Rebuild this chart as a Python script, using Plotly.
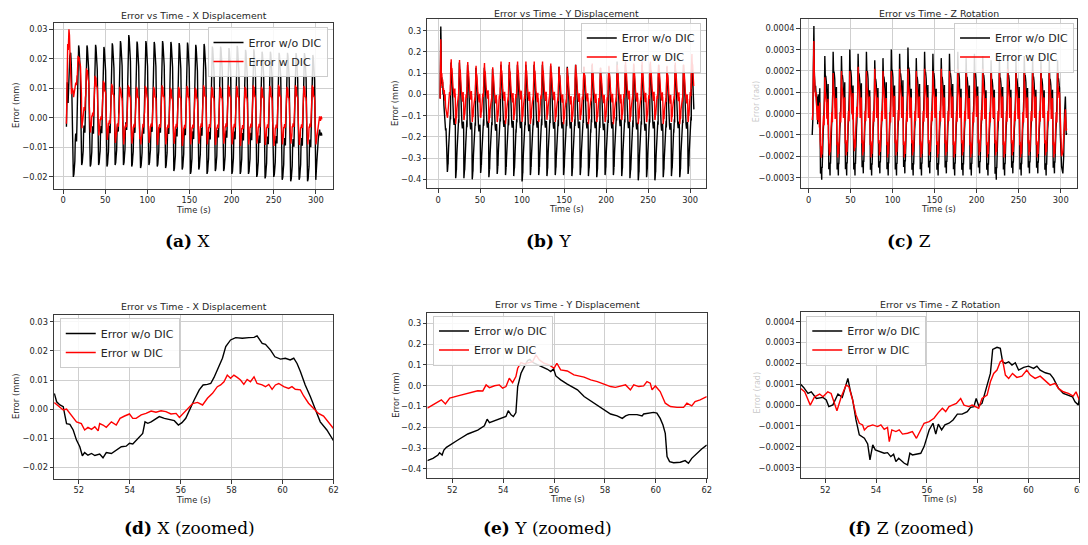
import plotly.graph_objects as go

# ======================= DATA =======================
# ---- (a) X displacement, full run (mm) ----
XA_black_start_t = [4.0, 5.0, 6.0, 7.0, 8.0, 9.1, 9.8, 10.5, 11.2]
XA_black_start_v = [-0.003, 0.012, 0.005, 0.015, 0.021, 0.022, 0.018, 0.008, -0.008]
XA_red_start_t = [4.0, 4.8, 5.5, 6.2, 7.0, 7.6, 8.2, 9.0, 10.0, 11.0]
XA_red_start_v = [-0.002, 0.015, 0.025, 0.023, 0.030, 0.028, 0.022, 0.012, 0.008, 0.010]
XA_peak_t = [18.5, 28.4, 38.6, 48.5, 58.4, 68.1, 78.0, 87.8, 98.3, 108.2, 118.1, 128.0, 137.8, 147.7,
             157.5, 167.4, 177.2, 187.0, 196.9, 206.7, 216.6, 226.4, 236.2, 246.1, 256.4, 266.4, 276.5,
             286.5, 296.5]
XA_black_lo = [-0.020, -0.016, -0.0165, -0.016, -0.0165, -0.016, -0.016, -0.0165, -0.017, -0.016, -0.0165,
               -0.017, -0.018, -0.0175, -0.019, -0.0175, -0.019, -0.018, -0.018, -0.019, -0.019, -0.019,
               -0.020, -0.0205, -0.020, -0.021, -0.0215, -0.021, -0.0215]
XA_black_hi = [0.0245, 0.0245, 0.0247, 0.024, 0.0252, 0.026, 0.028, 0.0258, 0.026, 0.0257, 0.026, 0.0257,
               0.0253, 0.0255, 0.0247, 0.025, 0.0241, 0.0241, 0.0236, 0.0244, 0.023, 0.0232, 0.0224,
               0.0224, 0.022, 0.022, 0.0219, 0.0219, 0.0213]
XA_red_lo = [0.007, -0.0035, -0.005, -0.006, -0.0075, -0.0085, -0.009, -0.0088, -0.009, -0.0085, -0.0092,
             -0.009, -0.0088, -0.0095, -0.009, -0.0088, -0.009, -0.0092, -0.0088, -0.009, -0.0095, -0.009,
             -0.0088, -0.0092, -0.0095, -0.009, -0.0088, -0.0092, -0.009]
XA_red_hi = [0.021, 0.0168, 0.0142, 0.0125, 0.0115, 0.0105, 0.011, 0.0105, 0.0108, 0.0105, 0.011, 0.0102,
             0.0105, 0.0108, 0.0102, 0.011, 0.0105, 0.0105, 0.011, 0.0108, 0.0105, 0.011, 0.0105, 0.0108,
             0.0112, 0.0105, 0.011, 0.0108, 0.011]
# cycle shape: offset from peak (s), level within the cycle (0=low, 1=high)
XA_black_shape_off = [-6.3, -5.6, -5.0, -4.5, -4.0, -3.5, -2.9, -2.5, -2.0, -1.5, -1.0, -0.5, 0.0, 0.5, 1.3, 2.0, 2.8, 3.3]
XA_black_shape_lvl = [0.0, 0.02, 0.08, 0.12, 0.28, 0.33, 0.30, 0.27, 0.40, 0.60, 0.78, 0.98, 1.0, 0.98, 0.80, 0.80, 0.40, 0.15]
XA_red_shape_off = [-6.3, -6.0, -5.5, -5.0, -4.5, -4.0, -3.5, -3.0, -2.5, -2.0, -1.5, -1.0, -0.6, -0.3, 0.0, 0.4, 0.8, 1.3, 1.9, 2.2, 2.7, 3.0, 3.3]
XA_red_shape_lvl = [0.13, 0.0, 0.08, 0.13, 0.29, 0.29, 0.34, 0.34, 0.29, 0.5, 0.55, 0.82, 1.0, 0.97, 0.89, 0.97, 0.82, 0.82, 0.79, 0.74, 0.39, 0.26, 0.08]
XA_black_end_t = [300.0, 301.2, 302.0, 303.0, 304.5, 305.5, 306.5, 307.2]
XA_black_end_v = [-0.021, -0.015, -0.010, -0.007, -0.004, -0.006, -0.005, -0.006]
XA_red_end_t = [300.2, 301.5, 302.5, 303.5, 304.5, 305.5, 306.5, 307.2]
XA_red_end_v = [-0.009, -0.006, -0.004, -0.001, 0.0005, -0.001, 0.0005, -0.0005]

# ---- (b) Y displacement, full run (mm) ----
YB_black_start_t = [2.5, 3.0, 3.3, 3.6, 4.0, 4.5, 5.0, 5.5, 6.0, 6.5, 7.0, 8.0, 9.0, 9.5, 10.3]
YB_black_start_v = [-0.02, 0.20, 0.32, 0.25, 0.05, 0.08, 0.03, 0.06, 0.0, 0.02, -0.05, -0.10, -0.17, -0.16, -0.25]
YB_red_start_t = [2.5, 3.0, 3.3, 3.6, 4.0, 4.5, 5.0, 5.5, 6.0, 6.5, 7.0, 7.5, 8.0, 8.5, 9.0, 9.5, 10.3]
YB_red_start_v = [-0.02, 0.15, 0.26, 0.18, 0.08, 0.10, 0.04, 0.07, 0.02, 0.03, 0.0, 0.02, -0.03, 0.0, -0.06, -0.08, -0.10]
YB_peak_t = [15.5, 25.4, 35.2, 45.1, 55.1, 64.9, 74.8, 84.7, 94.5, 104.4, 114.3, 124.2, 134.0, 143.9, 153.8,
             163.7, 173.6, 183.4, 193.3, 203.2, 213.1, 223.0, 232.8, 242.7, 252.6, 262.5, 272.4, 282.2,
             292.1, 302.0]
YB_black_lo = [-0.365, -0.395, -0.395, -0.40, -0.37, -0.39, -0.375, -0.38, -0.385, -0.41, -0.38, -0.38,
               -0.385, -0.38, -0.38, -0.385, -0.38, -0.385, -0.39, -0.38, -0.38, -0.385, -0.395, -0.405,
               -0.39, -0.405, -0.39, -0.385, -0.39, -0.375]
YB_black_hi = [0.15, 0.15, 0.14, 0.125, 0.125, 0.12, 0.14, 0.14, 0.14, 0.14, 0.14, 0.14, 0.135, 0.13, 0.13,
               0.14, 0.13, 0.14, 0.125, 0.13, 0.155, 0.14, 0.14, 0.14, 0.145, 0.14, 0.13, 0.14, 0.14, 0.15]
YB_red_lo = [-0.11, -0.14, -0.12, -0.13, -0.11, -0.135, -0.13, -0.14, -0.12, -0.13, -0.14, -0.13, -0.12,
             -0.13, -0.14, -0.13, -0.12, -0.14, -0.13, -0.13, -0.14, -0.12, -0.13, -0.14, -0.13, -0.12,
             -0.14, -0.13, -0.14, -0.13]
YB_red_hi = [0.165, 0.162, 0.152, 0.135, 0.148, 0.128, 0.155, 0.152, 0.155, 0.155, 0.155, 0.155, 0.145, 0.13,
             0.125, 0.14, 0.13, 0.145, 0.125, 0.135, 0.14, 0.155, 0.145, 0.155, 0.155, 0.14, 0.135, 0.15,
             0.14, 0.19]
YB_black_shape_off = [-4.4, -4.1, -3.6, -3.5, -3.3, -2.9, -2.1, -1.8, -1.7, -1.6, -1.0, -0.9, -0.7, -0.55, -0.5,
                      -0.3, 0.0, 0.4, 0.9, 1.2, 1.8, 2.5, 3.1, 3.6, 3.9, 4.4, 4.8, 5.1, 5.25, 5.35]
YB_black_shape_lvl = [0.0, 0.02, 0.08, 0.07, 0.14, 0.22, 0.32, 0.36, 0.42, 0.39, 0.45, 0.51, 0.45, 0.48, 0.75,
                      0.93, 1.0, 0.94, 0.9, 0.80, 0.71, 0.58, 0.47, 0.43, 0.47, 0.46, 0.49, 0.42, 0.28, 0.06]
YB_red_shape_off = [-4.4, -4.1, -3.7, -3.5, -3.4, -3.2, -2.9, -2.5, -2.1, -1.8, -1.65, -1.2, -1.1, -0.85, -0.7,
                    -0.55, -0.3, 0.05, 0.2, 0.35, 0.7, 0.9, 1.0, 1.2, 1.7, 2.3, 2.9, 3.3, 3.7, 3.9, 4.0, 4.55,
                    4.75, 4.9, 5.1, 5.3]
YB_red_shape_lvl = [0.0, 0.01, 0.11, 0.16, 0.09, 0.19, 0.24, 0.29, 0.33, 0.44, 0.39, 0.44, 0.38, 0.57, 0.48,
                    0.75, 0.83, 0.88, 1.0, 0.91, 0.81, 0.75, 0.85, 0.72, 0.63, 0.53, 0.46, 0.40, 0.44, 0.35,
                    0.44, 0.50, 0.35, 0.42, 0.31, 0.10]
YB_t_end = 304.5

# ---- (c) Z rotation, full run ----
ZC_black_start_t = [4.3, 5.0, 5.6, 6.3, 6.8, 7.3, 7.8, 8.3, 8.8, 9.3, 9.8, 10.3, 10.8]
ZC_black_start_v = [-0.0001, -0.00003, 0.0002, 0.00041, 0.0002, 0.00012, 0.0001, 0.00013, 0.00008, 0.0001,
                    0.00003, 0.00008, -0.00005]
ZC_red_start_t = [4.3, 5.0, 5.6, 6.3, 6.8, 7.3, 7.8, 8.3, 8.8, 9.3, 9.8, 10.3, 10.8]
ZC_red_start_v = [-0.00003, 0.0, 0.00015, 0.00034, 0.00018, 0.00012, 0.00012, 0.00008, 0.0001, 0.00002,
                  0.00008, -0.00003, 0.00002]
ZC_peak_t = [19.3, 29.2, 39.1, 49.0, 58.9, 68.8, 78.7, 88.5, 98.4, 108.3, 118.2, 128.1, 138.0, 147.9, 157.8,
             167.6, 177.5, 187.4, 197.3, 207.2, 217.1, 227.0, 236.9, 246.7, 256.6, 266.5, 276.4, 286.3, 296.2]
ZC_black_lo = [-0.00031, -0.00029, -0.00029, -0.00029, -0.00029, -0.00028, -0.00029, -0.00028, -0.00029,
               -0.00029, -0.00028, -0.00029, -0.00029, -0.00028, -0.00029, -0.00028, -0.00029, -0.00029,
               -0.00029, -0.00028, -0.00029, -0.00031, -0.00029, -0.00028, -0.00029, -0.00028, -0.00028,
               -0.00029, -0.00028]
ZC_black_hi = [0.00027, 0.00029, 0.00027, 0.00030, 0.00028, 0.00029, 0.00025, 0.00026, 0.00030, 0.00028,
               0.00031, 0.00026, 0.00029, 0.00028, 0.00026, 0.00028, 0.00029, 0.00026, 0.00028, 0.00027,
               0.00025, 0.00026, 0.00027, 0.00025, 0.00027, 0.00026, 0.00025, 0.00025, 0.00025]
ZC_red_lo = [-0.00021, -0.0002, -0.00021, -0.0002, -0.00018, -0.0002, -0.00021, -0.0002, -0.00021, -0.0002,
             -0.00021, -0.0002, -0.00021, -0.0002, -0.00021, -0.0002, -0.00021, -0.0002, -0.00021, -0.0002,
             -0.00021, -0.0002, -0.00021, -0.0002, -0.00021, -0.0002, -0.00021, -0.0002, -0.00021]
ZC_red_hi = [0.00017, 0.00019, 0.0002, 0.0002, 0.00022, 0.0002, 0.00021, 0.0002, 0.0002, 0.00021, 0.00021,
             0.0002, 0.00021, 0.0002, 0.00021, 0.0002, 0.00021, 0.0002, 0.0002, 0.00021, 0.0002, 0.0002,
             0.00021, 0.0002, 0.0002, 0.0002, 0.00021, 0.0002, 0.0002]
ZC_black_shape_off = [-7.9, -7.75, -7.45, -7.25, -6.85, -6.75, -6.4, -6.25, -6.0, -5.9, -5.7, -5.55, -5.35,
                      -5.15, -5.0, -4.6, -4.2, -4.1, -3.95, -3.7, -3.55, -3.1, -2.8, -2.65, -2.55, -2.45,
                      -1.9, -1.5, -1.0, -0.85, -0.5, -0.35, -0.25, 0.0, 0.1, 0.35, 0.5, 0.7, 1.1, 1.55, 1.9]
ZC_black_shape_lvl = [0.69, 0.66, 0.62, 0.57, 0.56, 0.50, 0.60, 0.58, 0.74, 0.64, 0.39, 0.26, 0.23, 0.05,
                      0.17, 0.10, 0.10, 0.03, 0.06, 0.0, 0.10, 0.10, 0.30, 0.36, 0.27, 0.35, 0.39, 0.44,
                      0.51, 0.50, 0.67, 0.78, 0.98, 1.0, 0.88, 0.88, 0.85, 0.81, 0.84, 0.81, 0.78]
ZC_red_shape_off = [-7.9, -7.5, -7.3, -6.8, -6.45, -6.25, -6.05, -5.85, -5.55, -5.35, -4.85, -4.55, -4.35,
                    -4.25, -3.85, -3.45, -3.3, -3.0, -2.6, -2.2, -1.9, -1.55, -1.4, -0.85, -0.5, -0.3, 0.05,
                    0.2, 0.45, 0.85, 1.35, 1.75, 1.9]
ZC_red_shape_lvl = [0.65, 0.45, 0.55, 0.61, 0.38, 0.55, 0.69, 0.53, 0.23, 0.15, 0.19, 0.16, 0.01, 0.15, 0.10,
                    0.13, 0.05, 0.23, 0.29, 0.37, 0.45, 0.53, 0.45, 0.41, 0.57, 0.83, 1.0, 0.81, 0.83, 0.80,
                    0.77, 0.74, 0.69]
ZC_black_end_t = [298.5, 299.5, 301.0, 302.5, 303.5, 304.5, 305.5, 306.5, 307.0]
ZC_black_end_v = [0.00012, -0.0001, -0.00025, -0.00028, -0.0002, 0.0, 0.00008, -0.0001, -0.00009]
ZC_red_end_t = [298.5, 299.5, 301.0, 302.5, 303.5, 304.5, 305.5, 306.5, 307.0]
ZC_red_end_v = [0.0001, -0.00005, -0.0002, -0.00018, -0.0001, -0.00002, 0.00002, -0.00008, -0.00007]

# ---- (d) X zoomed ----
XD_black_t = [51.04, 51.13, 51.26, 51.39, 51.45, 51.52, 51.65, 51.78, 51.91, 52.04, 52.14, 52.23, 52.36, 52.5,
              52.63, 52.82, 52.95, 53.08, 53.28, 53.47, 53.67, 53.86, 53.99, 54.12, 54.25, 54.38, 54.51, 54.6,
              54.71, 54.84, 54.97, 55.16, 55.36, 55.55, 55.75, 55.91, 56.05, 56.2, 56.34, 56.53, 56.73, 56.88,
              57.05, 57.18, 57.31, 57.51, 57.64, 57.77, 57.96, 58.16, 58.42, 58.68, 58.88, 59.0, 59.2, 59.33,
              59.53, 59.7, 59.92, 60.11, 60.3, 60.44, 60.57, 60.7, 60.89, 61.09, 61.28, 61.48, 61.74, 62.0]
XD_black_v = [0.0054, 0.0025, 0.0014, 0.0008, -0.002, -0.005, -0.0053, -0.0072, -0.0107, -0.013, -0.0161,
              -0.015, -0.0159, -0.0153, -0.016, -0.0155, -0.0168, -0.015, -0.0153, -0.0141, -0.013, -0.0128,
              -0.0118, -0.012, -0.0107, -0.0095, -0.0084, -0.0044, -0.0049, -0.0044, -0.0036, -0.0026, -0.0032,
              -0.0036, -0.004, -0.0055, -0.0047, -0.0032, -0.0003, 0.0031, 0.0066, 0.0083, 0.0085, 0.0088,
              0.0109, 0.0146, 0.0175, 0.0215, 0.0238, 0.0246, 0.0244, 0.0246, 0.0247, 0.0252, 0.0226, 0.0223,
              0.0203, 0.018, 0.0172, 0.0175, 0.0169, 0.0175, 0.0157, 0.0129, 0.0083, 0.0043, 0.0002, -0.0044,
              -0.0072, -0.0109]
XD_red_t = [51.04, 51.2, 51.39, 51.52, 51.71, 51.91, 52.1, 52.23, 52.36, 52.5, 52.63, 52.76, 52.82, 52.95, 53.08,
            53.28, 53.47, 53.62, 53.8, 53.99, 54.12, 54.25, 54.45, 54.64, 54.84, 55.03, 55.23, 55.42, 55.62,
            55.82, 55.95, 56.14, 56.27, 56.47, 56.66, 56.86, 57.05, 57.25, 57.44, 57.57, 57.7, 57.83, 57.96,
            58.09, 58.22, 58.35, 58.48, 58.61, 58.74, 58.88, 59.0, 59.2, 59.33, 59.46, 59.59, 59.72, 59.85,
            60.05, 60.24, 60.37, 60.5, 60.7, 60.83, 61.02, 61.22, 61.41, 61.61, 61.8, 62.0]
XD_red_v = [0.0022, 0.001, -0.0003, 0.0, -0.002, -0.0044, -0.005, -0.0072, -0.0063, -0.007, -0.0061, -0.0075,
            -0.005, -0.0055, -0.0063, -0.0044, -0.0055, -0.0032, -0.0024, -0.0017, -0.0032, -0.0032, -0.002,
            -0.0015, -0.0007, -0.0011, -0.0006, -0.0009, -0.0017, -0.0015, -0.0029, -0.0012, 0.0002, 0.0019,
            0.0023, 0.0014, 0.0037, 0.0054, 0.0077, 0.0083, 0.0094, 0.0117, 0.0106, 0.0117, 0.0109, 0.01,
            0.0085, 0.0102, 0.0094, 0.0111, 0.0088, 0.0083, 0.0077, 0.0085, 0.0068, 0.0083, 0.0088, 0.0077,
            0.0071, 0.0077, 0.0068, 0.0066, 0.0045, 0.002, 0.0002, -0.0015, -0.0024, -0.0044, -0.0067]

# ---- (e) Y zoomed ----
YE_black_t = [51.02, 51.24, 51.44, 51.5, 51.6, 51.67, 51.77, 51.96, 52.22, 52.61, 53.0, 53.26, 53.37, 53.46,
              53.66, 53.92, 54.11, 54.2, 54.31, 54.4, 54.5, 54.57, 54.7, 54.83, 54.96, 55.05, 55.12, 55.22,
              55.48, 55.74, 55.87, 55.98, 56.07, 56.26, 56.52, 56.92, 57.18, 57.57, 57.96, 58.22, 58.48,
              58.68, 58.81, 58.94, 59.26, 59.46, 59.52, 59.72, 59.91, 60.04, 60.17, 60.28, 60.37, 60.44,
              60.54, 60.7, 60.96, 61.15, 61.28, 61.41, 61.61, 61.8, 62.0]
YE_black_v = [-0.36, -0.349, -0.333, -0.322, -0.333, -0.309, -0.296, -0.28, -0.261, -0.232, -0.213, -0.193,
              -0.161, -0.177, -0.168, -0.157, -0.148, -0.12, -0.14, -0.148, -0.129, -0.004, 0.06, 0.092,
              0.121, 0.127, 0.116, 0.108, 0.095, 0.079, 0.068, 0.081, 0.047, 0.028, 0.008, -0.02, -0.052,
              -0.084, -0.116, -0.136, -0.145, -0.157, -0.145, -0.139, -0.139, -0.145, -0.136, -0.132, -0.128,
              -0.132, -0.157, -0.189, -0.229, -0.341, -0.365, -0.37, -0.368, -0.36, -0.373, -0.349, -0.325,
              -0.304, -0.285]
YE_red_t = [51.02, 51.24, 51.44, 51.57, 51.73, 51.9, 52.22, 52.61, 53.0, 53.2, 53.33, 53.46, 53.66, 53.85,
            53.98, 54.11, 54.24, 54.37, 54.5, 54.57, 54.7, 54.83, 54.96, 55.16, 55.29, 55.42, 55.61, 55.81,
            56.0, 56.11, 56.26, 56.52, 56.78, 56.98, 57.18, 57.44, 57.7, 57.96, 58.22, 58.41, 58.61, 58.81,
            59.0, 59.13, 59.33, 59.52, 59.65, 59.78, 59.85, 59.98, 60.17, 60.37, 60.57, 60.83, 61.09, 61.22,
            61.41, 61.54, 61.74, 62.0]
YE_red_v = [-0.108, -0.092, -0.081, -0.068, -0.088, -0.06, -0.049, -0.036, -0.024, -0.025, 0.004, -0.009, 0.0,
            0.004, -0.012, -0.004, 0.036, 0.015, 0.044, 0.084, 0.111, 0.105, 0.108, 0.116, 0.148, 0.124,
            0.108, 0.1, 0.084, 0.108, 0.076, 0.071, 0.052, 0.047, 0.041, 0.028, 0.02, 0.008, -0.004, -0.008,
            -0.001, 0.004, -0.02, 0.004, -0.004, -0.001, 0.02, 0.012, -0.02, -0.001, -0.028, -0.084, -0.1,
            -0.104, -0.104, -0.084, -0.097, -0.076, -0.068, -0.052]

# ---- (f) Z zoomed ----
ZF_black_t = [51.03, 51.15, 51.32, 51.45, 51.65, 51.91, 52.04, 52.14, 52.3, 52.5, 52.67, 52.82, 52.89, 52.98,
              53.08, 53.21, 53.34, 53.54, 53.67, 53.76, 53.87, 53.97, 54.13, 54.32, 54.45, 54.58, 54.69,
              54.78, 54.89, 54.98, 55.11, 55.24, 55.33, 55.43, 55.63, 55.76, 55.89, 56.09, 56.24, 56.35,
              56.45, 56.58, 56.71, 56.87, 57.03, 57.2, 57.39, 57.59, 57.72, 57.85, 57.94, 58.04, 58.17,
              58.37, 58.5, 58.59, 58.76, 58.89, 58.98, 59.09, 59.22, 59.35, 59.48, 59.61, 59.81, 60.0, 60.2,
              60.33, 60.46, 60.66, 60.85, 60.98, 61.18, 61.37, 61.57, 61.73, 61.83, 61.96, 62.0]
ZF_black_v = [0.0001, 0.000085, 0.000056, 0.000064, 0.000032, 0.000037, 0.000025, -0.000007, 0.000001,
              0.000053, 0.000037, 0.000108, 0.000128, 0.000072, 0.000025, -0.000071, -0.000143, -0.000159,
              -0.000186, -0.000263, -0.000191, -0.000215, -0.000223, -0.000231, -0.000228, -0.000247,
              -0.000236, -0.000271, -0.000255, -0.000266, -0.000279, -0.000287, -0.000231, -0.000239,
              -0.000234, -0.000231, -0.000199, -0.000119, -0.000087, -0.000139, -0.000091, -0.000119,
              -0.000095, -0.000087, -0.000071, -0.000043, -0.000043, -0.000031, -0.000011, -0.000007,
              0.000032, -0.000004, 0.000008, 0.000088, 0.000152, 0.000267, 0.000277, 0.000272, 0.000208,
              0.0002, 0.000208, 0.000192, 0.000203, 0.000168, 0.000181, 0.000187, 0.000176, 0.000187,
              0.000168, 0.000155, 0.000149, 0.000128, 0.00008, 0.000056, 0.000048, 0.00004, 0.000016, 0.0,
              0.000032]
ZF_red_t = [51.03, 51.19, 51.41, 51.58, 51.78, 51.91, 52.1, 52.23, 52.46, 52.63, 52.82, 52.93, 53.06, 53.21,
            53.34, 53.47, 53.54, 53.67, 53.87, 54.06, 54.19, 54.32, 54.45, 54.52, 54.62, 54.78, 54.91, 55.04,
            55.24, 55.43, 55.59, 55.72, 55.89, 56.09, 56.28, 56.45, 56.61, 56.74, 56.87, 57.0, 57.16, 57.33,
            57.46, 57.65, 57.78, 58.04, 58.17, 58.37, 58.5, 58.63, 58.76, 58.89, 58.98, 59.09, 59.22, 59.37,
            59.54, 59.74, 59.93, 60.07, 60.26, 60.46, 60.66, 60.85, 61.05, 61.18, 61.37, 61.57, 61.76, 61.87,
            62.0]
ZF_red_v = [0.00008, 0.000064, 0.0, 0.00004, 0.000053, 0.00004, 0.000064, 0.000056, -0.000027, 0.00004,
            0.000096, 0.000088, 0.000032, -0.000047, -0.000087, -0.000095, -0.000119, -0.000103, -0.000095,
            -0.000103, -0.000095, -0.000116, -0.000107, -0.000175, -0.000119, -0.000127, -0.000119,
            -0.000139, -0.000135, -0.000127, -0.000159, -0.000127, -0.000087, -0.000079, -0.000063,
            -0.000036, -0.000015, -0.000031, -0.000007, 0.0, 0.000008, 0.000032, 0.0, -0.000007, 0.0,
            -0.000015, 0.000032, 0.000048, 0.000112, 0.000152, 0.000168, 0.000208, 0.000216, 0.000144,
            0.000128, 0.000152, 0.000133, 0.000139, 0.000168, 0.000144, 0.000128, 0.000139, 0.000117,
            0.000096, 0.000104, 0.00008, 0.000064, 0.000056, 0.000043, 0.000064, 0.000024]

TITLES = ["Error vs Time - X Displacement", "Error vs Time - Y Displacement", "Error vs Time - Z Rotation",
          "Error vs Time - X Displacement", "Error vs Time - Y Displacement", "Error vs Time - Z Rotation"]
CAPTIONS = ["<b>(a)</b> X", "<b>(b)</b> Y", "<b>(c)</b> Z",
            "<b>(d)</b> X (zoomed)", "<b>(e)</b> Y (zoomed)", "<b>(f)</b> Z (zoomed)"]
SERIES_NAMES = ["Error w/o DIC", "Error w DIC"]


def build(start_t, start_v, peaks, lo, hi, off, lvl, end_t=(), end_v=(), t_max=None):
    t, v = list(start_t), list(start_v)
    for p, l, h in zip(peaks, lo, hi):
        for o, f in zip(off, lvl):
            t.append(p + o)
            v.append(l + f * (h - l))
    t += list(end_t)
    v += list(end_v)
    if t_max is not None:
        pairs = [(a, b) for a, b in zip(t, v) if a <= t_max]
        t = [a for a, _ in pairs]
        v = [b for _, b in pairs]
    return t, v


series = [
    (build(XA_black_start_t, XA_black_start_v, XA_peak_t, XA_black_lo, XA_black_hi, XA_black_shape_off,
           XA_black_shape_lvl, XA_black_end_t, XA_black_end_v),
     build(XA_red_start_t, XA_red_start_v, XA_peak_t, XA_red_lo, XA_red_hi, XA_red_shape_off,
           XA_red_shape_lvl, XA_red_end_t, XA_red_end_v)),
    (build(YB_black_start_t, YB_black_start_v, YB_peak_t, YB_black_lo, YB_black_hi, YB_black_shape_off,
           YB_black_shape_lvl, t_max=YB_t_end),
     build(YB_red_start_t, YB_red_start_v, YB_peak_t, YB_red_lo, YB_red_hi, YB_red_shape_off,
           YB_red_shape_lvl, t_max=YB_t_end)),
    (build(ZC_black_start_t, ZC_black_start_v, ZC_peak_t, ZC_black_lo, ZC_black_hi, ZC_black_shape_off,
           ZC_black_shape_lvl, ZC_black_end_t, ZC_black_end_v),
     build(ZC_red_start_t, ZC_red_start_v, ZC_peak_t, ZC_red_lo, ZC_red_hi, ZC_red_shape_off,
           ZC_red_shape_lvl, ZC_red_end_t, ZC_red_end_v)),
    ((XD_black_t, XD_black_v), (XD_red_t, XD_red_v)),
    ((YE_black_t, YE_black_v), (YE_red_t, YE_red_v)),
    ((ZF_black_t, ZF_black_v), (ZF_red_t, ZF_red_v)),
]

# ======================= LAYOUT =======================
# The page body has an 8px margin, so the figure is drawn 8px smaller and all
# target pixel positions (measured on the 1088x545 window) are shifted by OFF.
OFF = 8
W, H = 1088 - OFF, 545 - OFF


def px(x):
    return (x - OFF) / W


def py(y):
    return 1 - (y - OFF) / H


# plot boxes in window pixels: (left, right, top, bottom)
BOX = [(54, 335, 23, 189), (429.3, 709.3, 19.3, 188.3), (804.3, 1081.7, 19.3, 188.3),
       (54.3, 335, 315, 479), (429.3, 710, 312.7, 478.3), (804.3, 1084.3, 311.7, 478.3)]
XR = [[-11, 321], [-12.7, 319], [-9.5, 319], [51.03, 62], [51.02, 62], [51.03, 62]]
YR = [[-0.0241, 0.0321], [-0.4424, 0.3537], [-0.00035, 0.000442],
      [-0.0241, 0.0324], [-0.445, 0.351], [-0.000351, 0.000448]]
YFMT = [".2f", ".1f", ".4f", ".2f", ".1f", ".4f"]
YDT = [0.01, 0.1, 0.0001, 0.01, 0.1, 0.0001]
TITLE_Y = [15, 13.5, 13.5, 306.5, 304, 304]
CAP_X = [189, 551, 913, 190, 550, 915]
CAP_Y = [241, 241, 241, 528, 528, 528]
# legend anchor (window px): (x, y, xanchor)
LEG = [(329, 27, "right"), (704, 22.5, "right"), (1079, 22.5, "right"),
       (60, 318, "left"), (435, 315.5, "left"), (810, 315.5, "left")]
YTITLE_X = [16, 397, 760, 16, 397, 760]

fig = go.Figure()
TXT = "#262626"
FONT = "DejaVu Sans"

for i, ((bt, bv), (rt, rv)) in enumerate(series):
    n = "" if i == 0 else str(i + 1)
    leg = "legend" if i == 0 else "legend" + str(i + 1)
    fig.add_trace(go.Scatter(x=bt, y=bv, mode="lines", name=SERIES_NAMES[0],
                             line=dict(color="black", width=1.4), xaxis="x" + n, yaxis="y" + n, legend=leg))
    fig.add_trace(go.Scatter(x=rt, y=rv, mode="lines", name=SERIES_NAMES[1],
                             line=dict(color="#ff0000", width=1.4), xaxis="x" + n, yaxis="y" + n, legend=leg))

layout = dict(width=W, height=H, margin=dict(l=0, r=0, t=0, b=0), paper_bgcolor="white",
              plot_bgcolor="white", showlegend=True, font=dict(family=FONT, color=TXT))
annotations = []
for i in range(6):
    n = "" if i == 0 else str(i + 1)
    l, r, t, b = BOX[i]
    axcommon = dict(showline=True, mirror=True, linecolor="#3a3a3a", linewidth=1, ticks="outside",
                    ticklen=3.5, tickwidth=1, tickcolor="#3a3a3a", showgrid=True, gridcolor="#cfcfcf",
                    gridwidth=1, zeroline=False, tickfont=dict(family=FONT, size=8.3, color=TXT))
    if i < 3:
        xt = dict(tickmode="array", tickvals=[0, 50, 100, 150, 200, 250, 300])
    else:
        xt = dict(tickmode="array", tickvals=[52, 54, 56, 58, 60, 62])
    layout["xaxis" + n] = dict(domain=[px(l), px(r)], anchor="y" + n, range=XR[i], **xt, **axcommon)
    layout["yaxis" + n] = dict(domain=[py(b), py(t)], anchor="x" + n, range=YR[i],
                               tickformat=YFMT[i], dtick=YDT[i], tick0=0, **axcommon)
    lx, ly, xa = LEG[i]
    layout["legend" if i == 0 else "legend" + str(i + 1)] = dict(
        x=px(lx), y=py(ly), xanchor=xa, yanchor="top", bgcolor="rgba(255,255,255,0.85)",
        bordercolor="#cccccc", borderwidth=1, font=dict(family=FONT, size=11, color=TXT),
        tracegroupgap=0, itemwidth=30)
    cx = (l + r) / 2
    annotations.append(dict(text=TITLES[i], x=px(cx), y=py(TITLE_Y[i]), xref="paper", yref="paper",
                            showarrow=False, xanchor="center", yanchor="middle",
                            font=dict(family=FONT, size=9.4, color=TXT)))
    annotations.append(dict(text="Time (s)", x=px(cx), y=py(b + 20.5), xref="paper", yref="paper",
                            showarrow=False, xanchor="center", yanchor="middle",
                            font=dict(family=FONT, size=8.3, color=TXT)))
    if i % 3 == 2:
        annotations.append(dict(text="Error (rad)", x=px(YTITLE_X[i]), y=py((t + b) / 2 - 2),
                                xref="paper", yref="paper", showarrow=False, textangle=-90,
                                xanchor="center", yanchor="middle",
                                font=dict(family=FONT, size=8, color="rgba(90,90,90,0.35)")))
    else:
        annotations.append(dict(text="Error (mm)", x=px(YTITLE_X[i]), y=py((t + b) / 2 - 1),
                                xref="paper", yref="paper", showarrow=False, textangle=-90,
                                xanchor="center", yanchor="middle",
                                font=dict(family=FONT, size=8.3, color=TXT)))
    annotations.append(dict(text=CAPTIONS[i], x=px(CAP_X[i]), y=py(CAP_Y[i]), xref="paper",
                            yref="paper", showarrow=False, xanchor="center", yanchor="middle",
                            font=dict(family="DejaVu Serif", size=17, color="black")))
layout["annotations"] = annotations
fig.update_layout(**layout)
fig.write_html("out.html")
